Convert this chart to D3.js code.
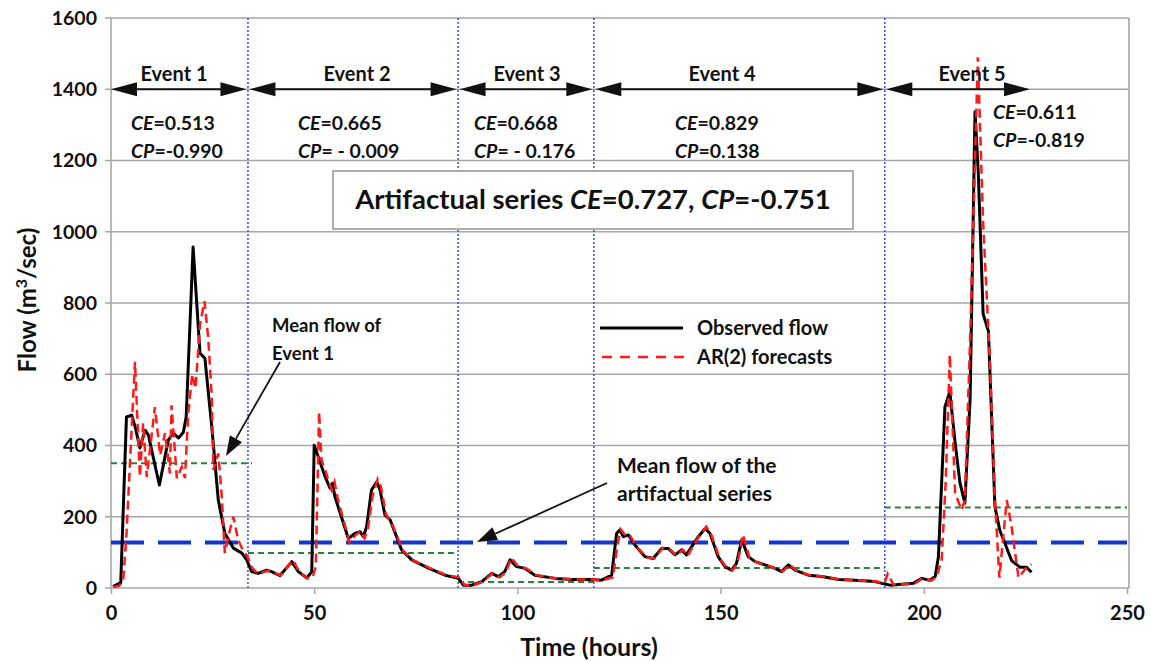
<!DOCTYPE html>
<html><head><meta charset="utf-8">
<script src="https://cdn.jsdelivr.net/npm/d3@7"></script>
<style>
body{margin:0;background:#fff;}
text{font-family:Lato,"Open Sans",sans-serif;font-weight:bold;fill:#111;}
</style></head>
<body><svg id="c" width="1151" height="662"></svg>
<script>
// ---- data ----
const obsTime = [0.5,2.4,3.8,5.1,6,7.1,8.4,9.2,11.9,14.1,15.3,16.6,17.8,18.5,20.2,21.9,23.1,24.8,26.4,28,30.1,32.2,33.4,34.6,36.2,38.3,39.5,41.6,44.5,46.1,48.2,49.4,50,52.7,53.9,54.5,55.1,58.4,60,61.3,62.1,62.9,64.1,65.4,66.2,67.4,68.7,71.5,74,78.1,82.2,85.5,86.7,88.8,91.2,93.7,95.3,96.9,98.2,99.8,101.9,104.3,109.3,113.4,118.3,120.7,123.2,124.4,125.2,126.1,127.3,128.9,131.4,133.4,135.5,137.1,138.8,140.4,141.6,142.9,144.5,146.2,147.4,149.4,151.1,152.7,153.9,155.2,156.8,158.5,160.9,163.4,165,166.7,168.3,171.6,174.9,179,183.1,188,190.4,191.7,197.4,199.5,201.5,202.8,203.6,205.2,206.4,207.7,208.9,210.1,211.4,212.6,213.4,214.6,215.9,217.5,218.7,220,221.6,223.7,225.3,226.5];
const obsFlow = [4,15,480,485,450,393,443,429,289,415,435,421,437,480,957,659,645,452,247,154,112,98,79,46,41,50,46,35,74,46,28,46,401,312,280,294,256,139,153,158,144,172,275,298,275,205,191,107,79,56,36,27,8,8,18,41,32,46,79,60,55,36,27,24,24,22,36,153,163,144,149,121,88,83,111,111,93,107,93,116,144,167,153,88,60,50,69,135,88,74,65,55,46,65,50,36,32,24,22,18,11,8,13,27,22,32,88,508,551,409,295,238,532,1337,1167,769,721,228,162,124,77,58,58,44];
const arTime = [0.5,2,3,3.8,5.9,7.1,7.9,8.8,10.8,12.1,13.3,14.5,14.9,16.2,17.4,18.2,19,20,20.8,21.9,23,23.9,24.8,25.2,26.4,27.3,28,29.2,30.1,31.3,32.5,33.6,34.8,36.2,38.5,39.8,41.8,44.8,46.4,48.4,49.6,50.4,51.2,51.8,53,54.3,55,55.8,58.7,60.3,61.5,62.4,63.2,64.4,65.6,66.4,67.7,69,71.8,74.3,78.4,82.5,85.8,87,89,91.5,94,95.6,97.2,98.5,100.1,102.2,104.6,109.6,113.7,118.6,121,123.5,124.6,125.4,126.4,127.6,129.2,131.7,133.7,135.8,137.4,139.1,140.7,141.9,143.2,144.8,146.5,147.7,149.7,151.4,153,154.2,155.5,157.1,158.8,161.2,163.7,165.3,167,168.6,171.9,175.2,179.3,183.4,188.3,190.4,191.1,192.5,197.7,199.8,201.8,203.1,204.4,205.4,206.4,207.7,209.3,210.1,211.4,213.3,214.6,216.3,217.5,218.6,220.4,221.5,223.3,225.3,226.5];
const arFlow = [3,6,20,150,635,312,462,312,508,373,435,321,513,308,340,308,490,600,560,740,805,705,537,331,378,250,98,160,200,135,105,88,55,40,48,44,36,78,44,27,30,60,495,359,320,275,298,250,128,150,160,140,165,260,305,285,205,185,105,78,56,36,30,8,7,18,42,30,45,85,62,55,36,27,24,24,22,30,120,165,150,150,118,86,83,113,110,90,108,90,118,146,172,150,85,58,50,72,150,85,73,64,54,46,66,49,36,32,24,22,18,15,40,10,12,28,21,30,79,300,655,266,219,247,700,1490,1025,627,247,29,247,180,29,58,67];
const eventNames = ["Event 1","Event 2","Event 3","Event 4","Event 5"];
const eventBounds = [0,33.7,85.4,118.8,190.4,226.5];
const eventMeanEnd = [34.7,85.4,118.8,190.4,250];
const eventMean = [350,98,17,56,226];
const eventCE = ["0.513","0.665","0.668","0.829","0.611"];
const eventCP = ["-0.990"," - 0.009"," - 0.176","0.138","-0.819"];
const seriesMean = 128;
const yTicks = [0,200,400,600,800,1000,1200,1400,1600];
const xTicks = [0,50,100,150,200,250];

// ---- layout ----
const svg = d3.select("#c");
const L=111, R=1127, T=18, B=588;
const x = d3.scaleLinear().domain([0,250]).range([L,R]);
const y = d3.scaleLinear().domain([0,1600]).range([B,T]);

// grid
svg.append("g").selectAll("line").data(yTicks).join("line")
  .attr("x1",L-6).attr("x2",R+2).attr("y1",d=>y(d)).attr("y2",d=>y(d))
  .attr("stroke","#a6a6a6").attr("stroke-width",1.6);
svg.append("line").attr("x1",L).attr("x2",L).attr("y1",T).attr("y2",B).attr("stroke","#a6a6a6").attr("stroke-width",1.6);
svg.append("line").attr("x1",R+2).attr("x2",R+2).attr("y1",T).attr("y2",B).attr("stroke","#a6a6a6").attr("stroke-width",1.6);

// axes
const yAx = svg.append("g").attr("transform",`translate(${L},0)`)
  .call(d3.axisLeft(y).tickValues(yTicks).tickFormat(d3.format("d")).tickSize(0).tickPadding(14));
yAx.select(".domain").remove();
yAx.selectAll("text").style("font-size","19.5px").style("font-family","Lato,sans-serif").style("font-weight","bold").attr("fill","#111");
const xAx = svg.append("g").attr("transform",`translate(0,${B})`)
  .call(d3.axisBottom(x).tickValues(xTicks).tickFormat(d3.format("d")).tickSize(6).tickPadding(12));
xAx.select(".domain").remove();
xAx.selectAll("line").attr("stroke","#a6a6a6").attr("stroke-width",1.5);
xAx.selectAll("text").style("font-size","20px").style("font-family","Lato,sans-serif").style("font-weight","bold").attr("fill","#111");

// axis titles
svg.append("text").attr("x",589).attr("y",656).attr("text-anchor","middle").style("font-size","25px").text("Time (hours)");
const yt = svg.append("text").attr("transform","translate(36,300) rotate(-90)").attr("text-anchor","middle").style("font-size","24px");
yt.append("tspan").text("Flow (m");
yt.append("tspan").attr("dy",-9).style("font-size","16px").text("3");
yt.append("tspan").attr("dy",9).text("/sec)");

// event boundaries (blue dotted)
svg.append("g").selectAll("line").data(eventBounds.slice(1,5)).join("line")
  .attr("x1",d=>x(d)).attr("x2",d=>x(d)).attr("y1",T).attr("y2",B)
  .attr("stroke","#3b5bdb").attr("stroke-width",1.6).attr("stroke-dasharray","2,2");

// event means (green dashed)
svg.append("g").selectAll("line").data(eventMean).join("line")
  .attr("x1",(d,i)=>x(eventBounds[i])).attr("x2",(d,i)=>x(eventMeanEnd[i]))
  .attr("y1",d=>y(d)).attr("y2",d=>y(d))
  .attr("stroke","#2e7d3e").attr("stroke-width",2).attr("stroke-dasharray","6,4");

// overall mean (blue long dashed)
svg.append("line").attr("x1",x(0)).attr("x2",x(250)).attr("y1",y(seriesMean)).attr("y2",y(seriesMean))
  .attr("stroke","#1336d0").attr("stroke-width",4).attr("stroke-dasharray","33,14");

// series
const obs = obsTime.map((t,i)=>[t,obsFlow[i]]);
const ar = arTime.map((t,i)=>[t,arFlow[i]]);
const line = d3.line().x(d=>x(d[0])).y(d=>y(d[1]));
svg.append("path").datum(obs).attr("d",line).attr("fill","none").attr("stroke","#000").attr("stroke-width",3).attr("stroke-linejoin","round");
svg.append("path").datum(ar).attr("d",line).attr("fill","none").attr("stroke","#ff1a1a").attr("stroke-width",2.5).attr("stroke-dasharray","9,5");

// event arrows
function arrow(x1,x2,yy){
  const g=svg.append("g");
  g.append("line").attr("x1",x1+20).attr("x2",x2-20).attr("y1",yy).attr("y2",yy).attr("stroke","#111").attr("stroke-width",2.2);
  g.append("path").attr("d",`M${x1},${yy} L${x1+26},${yy-7} L${x1+26},${yy+7} Z`).attr("fill","#111");
  g.append("path").attr("d",`M${x2},${yy} L${x2-26},${yy-7} L${x2-26},${yy+7} Z`).attr("fill","#111");
}
const arrowY = y(1400);
eventNames.forEach((n,i)=>{
  const a = x(eventBounds[i])+ (i==0?0:1.5), b = x(eventBounds[i+1])-1.5;
  arrow(a,b,arrowY);
});
const evLabelX=[174,357,527,722,972];
svg.append("g").selectAll("text").data(eventNames).join("text")
  .attr("x",(d,i)=>evLabelX[i]).attr("y",81).attr("text-anchor","middle").style("font-size","20px").text(d=>d);

const ceX=[131,298,474,675,993];
const ceY=[130,130,130,130,119];
eventCE.forEach((v,i)=>{
  const t1=svg.append("text").attr("x",ceX[i]).attr("y",ceY[i]).style("font-size","19.5px");
  t1.append("tspan").style("font-style","italic").text("CE");
  t1.append("tspan").text("="+v);
  const t2=svg.append("text").attr("x",ceX[i]).attr("y",ceY[i]+28).style("font-size","19.5px");
  t2.append("tspan").style("font-style","italic").text("CP");
  t2.append("tspan").text("="+eventCP[i]);
});

// big box
svg.append("rect").attr("x",333).attr("y",171).attr("width",520).attr("height",58).attr("fill","#fff").attr("stroke","#9a9a9a").attr("stroke-width",1.6);
const bt=svg.append("text").attr("x",593).attr("y",209).attr("text-anchor","middle").style("font-size","27.5px");
bt.append("tspan").text("Artifactual series ");
bt.append("tspan").style("font-style","italic").text("CE");
bt.append("tspan").text("=0.727, ");
bt.append("tspan").style("font-style","italic").text("CP");
bt.append("tspan").text("=-0.751");

// legend
svg.append("line").attr("x1",600).attr("x2",683).attr("y1",328).attr("y2",328).attr("stroke","#000").attr("stroke-width",2.8);
svg.append("line").attr("x1",602).attr("x2",686).attr("y1",357).attr("y2",357).attr("stroke","#ff1a1a").attr("stroke-width",2.5).attr("stroke-dasharray","10,8");
svg.append("text").attr("x",697).attr("y",335).style("font-size","20px").text("Observed flow");
svg.append("text").attr("x",697).attr("y",364).style("font-size","20px").text("AR(2) forecasts");

// annotations
svg.append("text").attr("x",272).attr("y",332).style("font-size","18.5px").text("Mean flow of");
svg.append("text").attr("x",272).attr("y",360).style("font-size","18.5px").text("Event 1");
svg.append("text").attr("x",617).attr("y",473).style("font-size","21px").text("Mean flow of the");
svg.append("text").attr("x",617).attr("y",501).style("font-size","21px").text("artifactual series");
function annArrow(x1,y1,x2,y2){
  const ang=Math.atan2(y2-y1,x2-x1), len=20, w=7;
  const bx=x2-len*Math.cos(ang), by=y2-len*Math.sin(ang);
  svg.append("line").attr("x1",x1).attr("y1",y1).attr("x2",bx).attr("y2",by).attr("stroke","#111").attr("stroke-width",1.8);
  svg.append("path").attr("d",`M${x2},${y2} L${bx+w*Math.sin(ang)},${by-w*Math.cos(ang)} L${bx-w*Math.sin(ang)},${by+w*Math.cos(ang)} Z`).attr("fill","#111");
}
annArrow(280,362,226,456);
annArrow(607,483,477,542);
</script></body></html>
